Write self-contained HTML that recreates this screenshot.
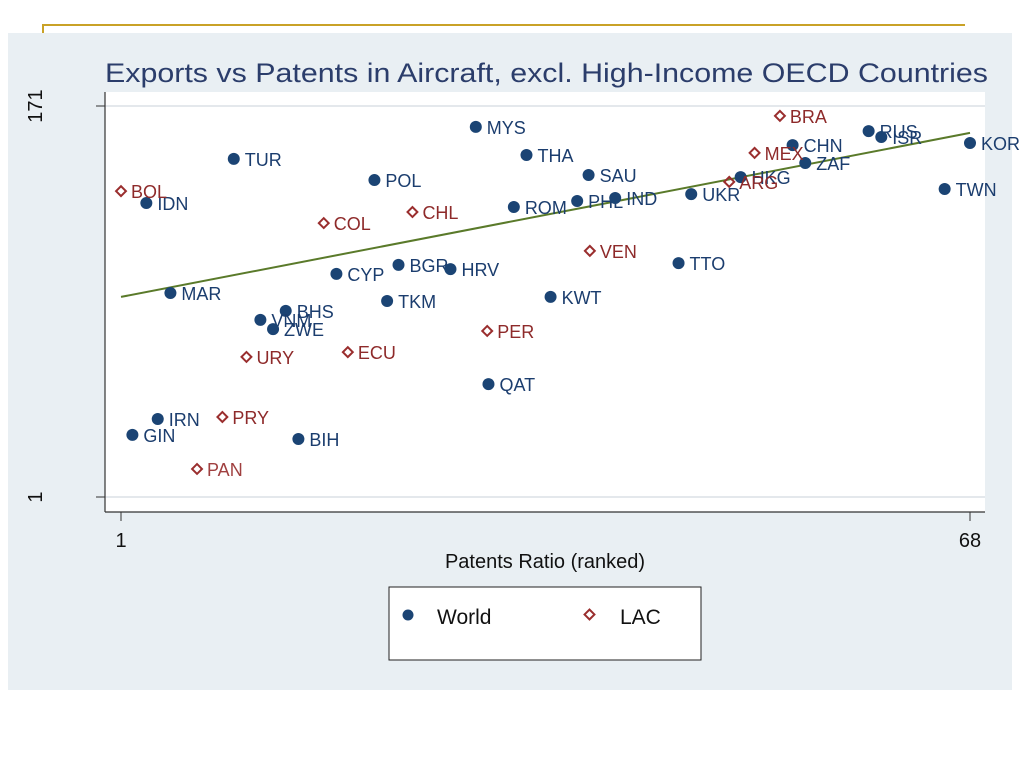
<!DOCTYPE html>
<html><head><meta charset="utf-8"><style>
body{margin:0;background:#fff;width:1024px;height:768px;overflow:hidden;font-family:"Liberation Sans",sans-serif}
</style></head><body>
<svg width="1024" height="768" xmlns="http://www.w3.org/2000/svg" font-family="Liberation Sans, sans-serif">
<line x1="42" y1="25" x2="965" y2="25" stroke="#c9a227" stroke-width="2"/>
<line x1="43" y1="25" x2="43" y2="36" stroke="#c9a227" stroke-width="2"/>
<rect x="8" y="33" width="1004" height="657" fill="#e9eff3"/>
<rect x="105" y="92" width="880" height="420" fill="#fff"/>
<text x="105" y="82" font-size="27" fill="#2b3d6b" textLength="883" lengthAdjust="spacingAndGlyphs">Exports vs Patents in Aircraft, excl. High-Income OECD Countries</text>
<g id="grid"></g>
<g id="fit"></g>
<g id="marks"></g>
<line x1="105" y1="92" x2="105" y2="512" stroke="#333" stroke-width="1.2"/>
<line x1="105" y1="512" x2="985" y2="512" stroke="#333" stroke-width="1.2"/>
<g id="ticks"></g>
<text x="545" y="568" font-size="20" text-anchor="middle" fill="#111">Patents Ratio (ranked)</text>
<g>
<rect x="389" y="587" width="312" height="73" fill="#fff" stroke="#222" stroke-width="1"/>
<circle cx="408" cy="615" r="5.5" fill="#1b4474"/>
<text x="437" y="624" font-size="21" fill="#111">World</text>
<rect x="586" y="611" width="7" height="7" fill="none" stroke="#9a2e2e" stroke-width="2" transform="rotate(45 589.5 614.5)"/>
<text x="620" y="624" font-size="21" fill="#111">LAC</text>
</g>
</svg>
<script>
const worldNames=["MYS","TUR","POL","IDN","THA","SAU","ROM","PHL","IND","UKR","HKG","CHN","ZAF","RUS","ISR","KOR","TWN","TTO","KWT","CYP","BGR","HRV","MAR","TKM","BHS","VNM","ZWE","QAT","IRN","GIN","BIH"];
const worldX=[29,9.9,21,3,33,37.9,32,37,40,46,49.9,54,55,60,61,68,66,45,34.9,18,22.9,27,4.9,22,14,12,13,30,3.9,1.9,15];
const worldY=[161.9,148,138.8,128.8,149.7,141,127.1,129.7,131,132.7,140.1,154,146.2,160.1,157.5,154.9,134.9,102.7,88,98,101.9,100.1,89.7,86.2,81.9,78,74,50.1,34.9,28,26.2];
const lacNames=["BRA","MEX","ARG","BOL","COL","CHL","VEN","PER","ECU","URY","PRY","PAN"];
const lacX=[53,51,49,1,17,24,38,29.9,18.9,10.9,9,7];
const lacY=[166.7,150.6,138,134,120.1,124.9,108,73.2,64,61.9,35.8,13.2];
const fitEnds=[88,159.3];
const xTicks=[1,68];
const yTicks=[1,171];
const NS="http://www.w3.org/2000/svg";
function xs(v){return 121+(v-1)*(970-121)/67;}
function ys(v){return 497-(v-1)*(497-106)/170;}
function mk(tag,attrs,parent){const e=document.createElementNS(NS,tag);for(const k in attrs)e.setAttribute(k,attrs[k]);document.getElementById(parent).appendChild(e);return e;}
yTicks.forEach(t=>{
 const g=mk("line",{x1:105,x2:985,y1:ys(t),y2:ys(t),stroke:"#e4e8ec","stroke-width":2},"grid");
 
 
 const l=mk("line",{x1:96,x2:105,y1:ys(t),y2:ys(t),stroke:"#333"},"ticks");
 
 
 const tx=mk("text",{x:42,y:ys(t),"font-size":20,"text-anchor":"middle",fill:"#111",transform:"rotate(-90 42 "+ys(t)+")"},"ticks");
 tx.textContent=t;
 
 
});
xTicks.forEach(t=>{
 const l=mk("line",{x1:xs(t),x2:xs(t),y1:512,y2:521,stroke:"#333"},"ticks");
 
 
 const tx=mk("text",{x:xs(t),y:547,"font-size":20,"text-anchor":"middle",fill:"#111"},"ticks");
 tx.textContent=t;
 
 
});
const fl=mk("line",{x1:xs(1),y1:ys(fitEnds[0]),x2:xs(68),y2:ys(fitEnds[1]),stroke:"#5a7a2a","stroke-width":2},"fit");


worldNames.forEach((n,i)=>{
 const c=mk("circle",{cx:xs(worldX[i]),cy:ys(worldY[i]),r:6,fill:"#1b4474"},"marks");
 
 
 const t=mk("text",{x:xs(worldX[i])+11,y:ys(worldY[i])+7,"font-size":18,fill:"#1b3d6e"},"marks");
 t.textContent=n;
 
 
});
lacNames.forEach((n,i)=>{
 const x=xs(lacX[i]),y=ys(lacY[i]);
 const r=mk("rect",{x:x-3.5,y:y-3.5,width:7,height:7,fill:"none",stroke:"#9a2e2e","stroke-width":2,transform:"rotate(45 "+x+" "+y+")"},"marks");
 
 
 const t=mk("text",{x:x+10,y:y+7,"font-size":18,fill:n==="PAN"?"#a04040":"#8e2a2a"},"marks");
 t.textContent=n;
 
 
});
</script>
</body></html>
